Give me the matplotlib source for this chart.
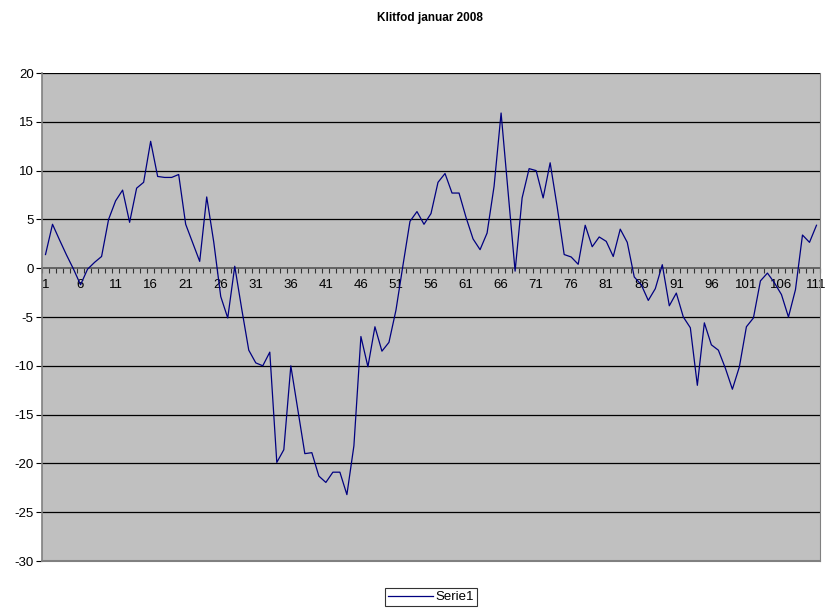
import numpy as np
from matplotlib import pyplot as plt
from matplotlib.ticker import FixedLocator

plt.rcParams['font.family'] = ['Liberation Sans', 'DejaVu Sans']

TITLE = "Klitfod januar 2008"
SERIES_NAME = "Serie1"

# one value per category 1..111
values = [
    1.4, 4.5, 2.9, 1.35, -0.1, -1.7, -0.1, 0.6, 1.2, 5.0,
    6.9, 8.0, 4.7, 8.2, 8.8, 13.0, 9.4, 9.3, 9.3, 9.6,
    4.5, 2.6, 0.7, 7.3, 2.7, -2.9, -5.1, 0.2, -4.2, -8.4,
    -9.7, -10.0, -8.6, -19.9, -18.6, -10.0, -14.5, -19.0, -18.9, -21.3,
    -21.95, -20.9, -20.9, -23.2, -18.2, -7.0, -10.1, -6.0, -8.5, -7.6,
    -4.3, 0.3, 4.8, 5.8, 4.5, 5.6, 8.8, 9.7, 7.7, 7.7,
    5.2, 3.0, 1.9, 3.6, 8.4, 15.9, 7.8, -0.3, 7.2, 10.2,
    10.0, 7.2, 10.8, 6.3, 1.4, 1.15, 0.4, 4.4, 2.2, 3.2,
    2.75, 1.2, 4.0, 2.65, -0.9, -1.7, -3.3, -2.1, 0.36, -3.85,
    -2.55, -5.0, -6.1, -12.0, -5.6, -7.85, -8.4, -10.25, -12.4, -10.1,
    -6.0, -5.1, -1.3, -0.5, -1.5, -2.7, -5.0, -2.2, 3.4, 2.65,
    4.4,
]
categories = np.arange(1, len(values) + 1)
x_labels = categories[::5]
y_ticks = [20, 15, 10, 5, 0, -5, -10, -15, -20, -25, -30]

fig = plt.figure(figsize=(8.29, 6.12), dpi=100)
ax = fig.add_axes([42 / 829, 1 - 561 / 612, 778 / 829, 488 / 612])
ax.set_facecolor('#c0c0c0')

for yv in y_ticks:
    if yv != 0:
        ax.axhline(yv, color='black', lw=0.9, zorder=1)

ax.plot(categories, values, color='#000080', lw=0.9, zorder=3, label=SERIES_NAME)

ax.set_xlim(0.5, len(values) + 0.5)
ax.set_ylim(-30, 20)
ax.set_yticks(y_ticks)
ax.set_yticklabels([str(v) for v in y_ticks])

# category axis sits on the zero line
ax.spines['bottom'].set_position(('data', 0))
ax.spines['bottom'].set_color('#555555')
ax.spines['bottom'].set_linewidth(1.2)
ax.spines['bottom'].set_zorder(2)
ax.spines['top'].set_visible(False)
ax.spines['right'].set_color('#808080')
ax.spines['left'].set_color('#808080')
ax.spines['left'].set_linewidth(1.2)

ax.set_xticks(x_labels)
ax.set_xticklabels([str(v) for v in x_labels])
ax.xaxis.set_minor_locator(FixedLocator(np.arange(0.5, len(values) + 1, 1)))
ax.tick_params(axis='x', which='major', length=0, pad=8, labelsize=9.5)
ax.tick_params(axis='x', which='minor', length=3.5, width=0.8, direction='out', color='#333333')
ax.tick_params(axis='y', length=4, width=0.8, labelsize=9.5, pad=2)

# bottom border of the plot area
ax.axhline(-30, color='#808080', lw=1.5, zorder=2, clip_on=False)

fig.text(430 / 829, 1 - 18 / 612, TITLE, ha='center', va='center',
         fontsize=8.5, fontweight='bold')

leg = fig.legend(loc='center', bbox_to_anchor=(431 / 829, 1 - 597 / 612),
                 frameon=True, fancybox=False, edgecolor='black', fontsize=9.5,
                 handlelength=3.4, handletextpad=0.2, borderpad=0.25)
leg.get_frame().set_linewidth(0.8)

fig.savefig('out.png', dpi=100)
